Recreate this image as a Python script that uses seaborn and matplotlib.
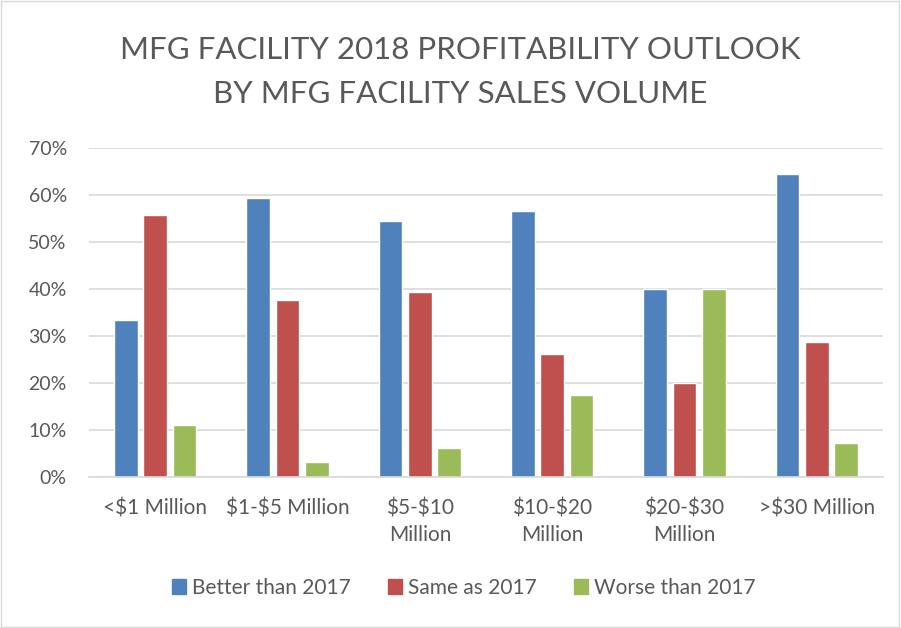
import matplotlib.pyplot as plt
import matplotlib.patches as mpatches
import pandas as pd
import seaborn as sns

# 数据
categories = ['<$1 Million', '$1-$5 Million', '$5-$10\nMillion', '$10-$20\nMillion',
              '$20-$30\nMillion', '>$30 Million']
series_names = ['Better than 2017', 'Same as 2017', 'Worse than 2017']
better = [33.3, 59.4, 54.5, 56.5, 40.0, 64.3]
same = [55.6, 37.5, 39.4, 26.1, 20.0, 28.6]
worse = [11.1, 3.1, 6.1, 17.4, 40.0, 7.1]
y_ticks = [0, 10, 20, 30, 40, 50, 60, 70]
colors = ['#4F81BD', '#C0504D', '#9BBB59']

df = pd.DataFrame({
    'category': categories * 3,
    'series': [series_names[0]] * 6 + [series_names[1]] * 6 + [series_names[2]] * 6,
    'value': better + same + worse,
})

sns.set_theme(style='white')
plt.rcParams['font.family'] = ['Lato', 'DejaVu Sans']
plt.rcParams['text.parse_math'] = False  # $ 不当作公式
text_color = '#595959'
grid_color = '#D9D9D9'

fig = plt.figure(figsize=(9.01, 6.28), dpi=100)
ax = fig.add_axes([0.0988, 0.2409, 0.8812, 0.5239])

sns.barplot(data=df, x='category', y='value', hue='series', palette=colors,
            width=0.667, gap=0.2, ax=ax, legend=False, saturation=1)

ax.set_ylim(0, 70)
ax.set_yticks(y_ticks)
ax.set_yticklabels([f'{t}%' for t in y_ticks])
ax.set_xlim(-0.5, len(categories) - 0.5)
ax.set_xlabel('')
ax.set_ylabel('')
ax.yaxis.grid(True, color=grid_color, linewidth=1.2)
ax.set_axisbelow(True)
for s in ['top', 'right', 'left']:
    ax.spines[s].set_visible(False)
ax.spines['bottom'].set_color(grid_color)
ax.spines['bottom'].set_linewidth(1.2)
ax.tick_params(axis='both', length=0, labelcolor=text_color)
ax.tick_params(axis='y', pad=16, labelsize=14)
ax.tick_params(axis='x', pad=16, labelsize=15)
for lab in ax.get_xticklabels():
    lab.set_linespacing(1.4)

fig.text(0.511, 0.886, 'MFG FACILITY 2018 PROFITABILITY OUTLOOK\nBY MFG FACILITY SALES VOLUME',
         ha='center', va='center', fontsize=22.5, color=text_color, linespacing=1.7)

handles = [mpatches.Patch(color=c, label=n) for c, n in zip(colors, series_names)]
leg = fig.legend(handles=handles, loc='center', bbox_to_anchor=(0.515, 0.064), ncol=3,
                 frameon=False, fontsize=15, handlelength=0.66, handleheight=0.66,
                 handletextpad=0.3, columnspacing=1.8)
for t in leg.get_texts():
    t.set_color(text_color)

fig.patches.append(mpatches.Rectangle((0.001, 0.002), 0.997, 0.996, transform=fig.transFigure,
                                      fill=False, edgecolor=grid_color, linewidth=1))

fig.savefig('out.png', dpi=100)
